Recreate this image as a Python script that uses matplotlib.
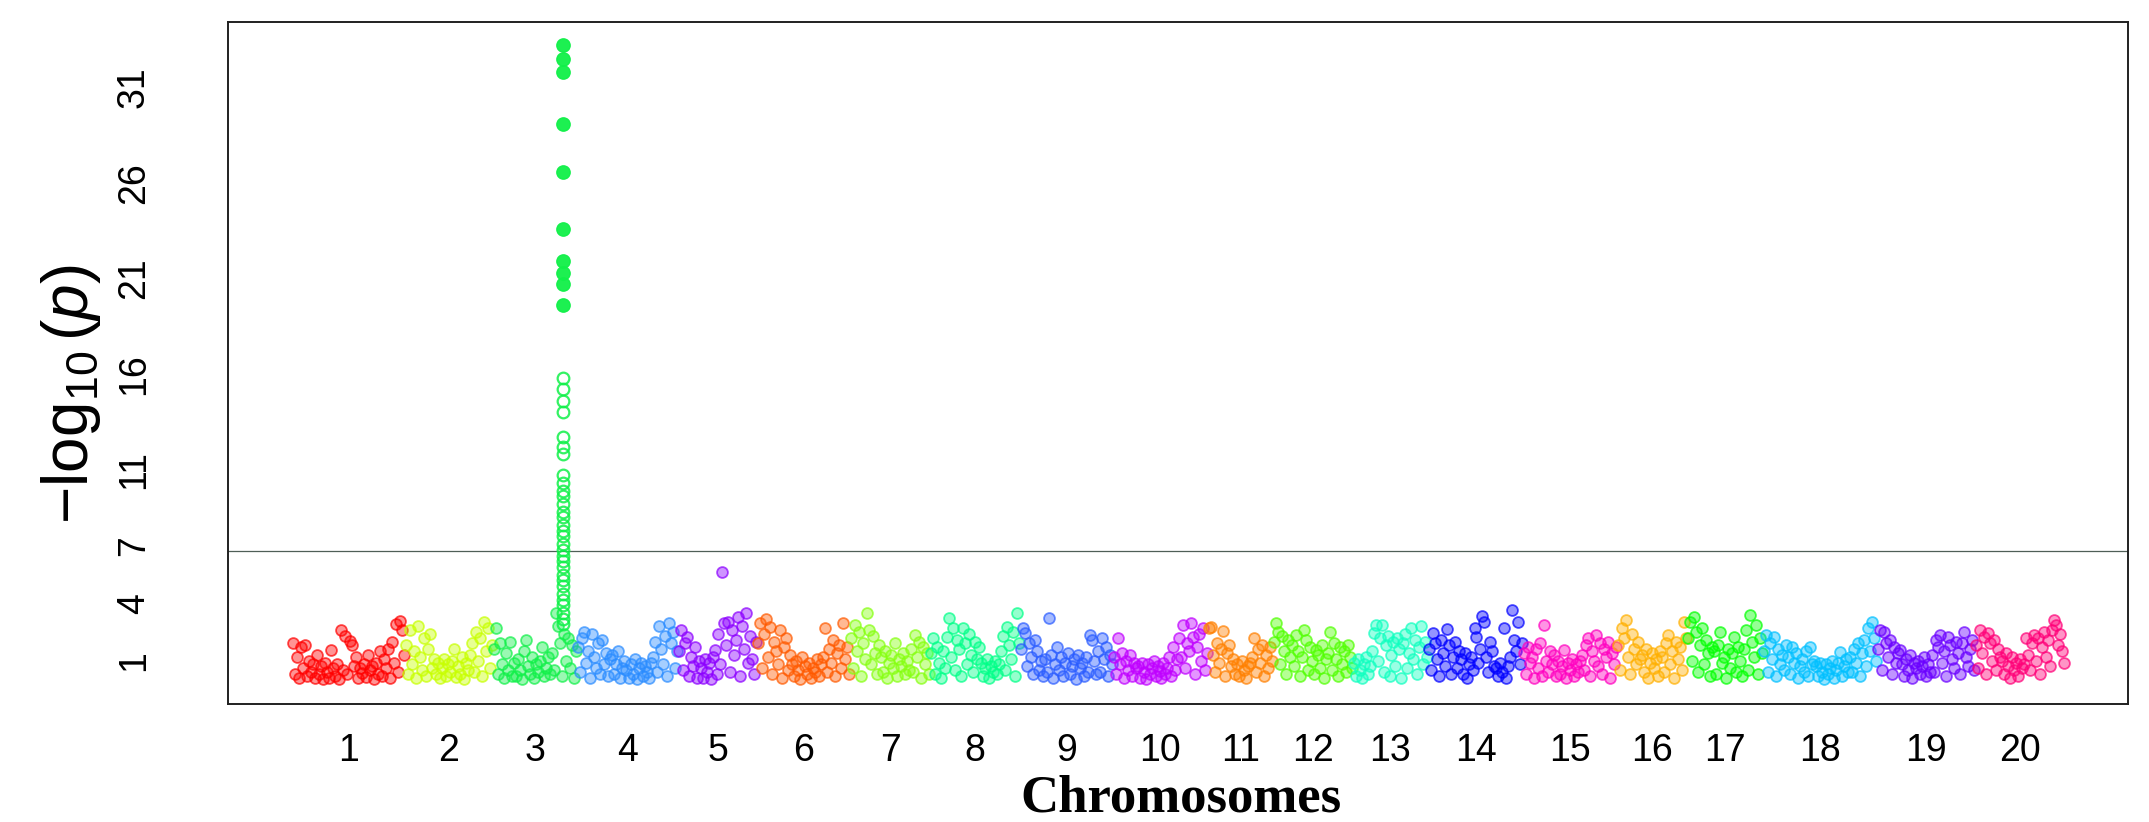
import numpy as np
import matplotlib
matplotlib.use('Agg')
import matplotlib.pyplot as plt
from matplotlib import font_manager
from matplotlib.colors import to_rgba

# chromosome layout (Mb) and colours
chrom_names = [str(i) for i in range(1, 21)]
chrom_len = [113, 88, 84, 101, 79, 93, 80, 90, 93, 95, 65, 80, 75, 95, 94, 70, 76, 114, 98, 90]
chrom_colors = ['#FF0000', '#C8FF00', '#10F048', '#2A8CFF', '#8C00FF',
                '#FF5A00', '#86FF10', '#00FF88', '#2A5CFF', '#C000FF',
                '#FF8000', '#50FF00', '#10FFC0', '#0000FF', '#FF00C0',
                '#FFB000', '#00FF00', '#00C0FF', '#6A00FF', '#FF0078']

# -log10(p) along each chromosome (left to right)
chr1_logp = [1.9, 0.3, 1.2, 0.1, 1.7, 0.6, 1.8, 0.2, 1.0, 0.4, 0.8, 0.1, 1.3, 0.3, 0.7, 0.05, 0.9,
             0.4, 0.1, 1.55, 0.6, 0.2, 0.8, 0.05, 2.6, 0.5, 2.3, 0.3, 2.05, 1.8, 0.7, 1.2, 0.1, 0.6,
             0.35, 0.8, 0.15, 1.3, 0.5, 0.7, 0.05, 0.9, 0.3, 1.5, 0.2, 1.1,
             0.6, 1.6, 0.1, 2.0, 0.9, 2.9, 0.4, 3.05, 2.6, 1.3]
chr2_logp = [1.8, 0.3, 2.6, 0.8, 1.5, 0.1, 2.8, 1.2, 0.5, 2.2, 0.2, 1.6, 2.4, 0.6, 1.1, 0.3,
             0.9, 0.1, 0.6, 1.1, 0.2, 0.8, 0.4, 1.0, 1.6, 0.15, 0.7, 0.3, 1.2, 0.05, 0.9, 0.5, 1.3,
             1.9, 0.4, 2.5, 1.0, 2.2, 0.2, 3.0, 1.5, 2.7, 0.6, 1.8]
chr3_logp = [1.6, 2.7, 0.3, 1.9, 0.8, 0.1, 1.4, 0.5, 2.0, 0.2,
             0.9, 0.2, 1.1, 0.5, 0.05, 1.5, 2.1, 0.7, 0.3, 1.2, 0.1, 0.8, 0.4, 1.0, 1.7, 0.2, 0.6, 1.2, 0.3,
             1.4, 0.5, 3.5, 2.8, 1.9, 0.2, 2.4, 1.0, 2.2, 0.6, 1.8, 0.1, 1.5]
chr4_logp = [1.7, 0.4, 2.2, 2.5, 0.9, 1.5, 0.1, 2.4, 1.2, 0.6, 1.9, 0.3, 2.1, 0.8, 1.4, 0.2, 1.1,
             1.3, 0.3, 0.8, 1.5, 0.1, 0.6, 1.0,
             0.5, 0.1, 0.8, 0.3, 1.1, 0.05, 0.6, 0.9, 0.2, 0.7, 0.4, 0.1, 0.9,
             1.2, 2.0, 0.4, 2.8, 1.6, 0.8, 2.3, 0.2, 2.95, 1.9, 2.5, 0.6, 1.5]
chr5_logp = [1.5, 2.6, 0.5, 1.9, 2.25, 0.2, 1.2, 0.7, 1.7, 0.1, 1.0,
             0.6, 0.1, 1.1, 0.4, 0.9, 0.05, 1.2, 1.56, 0.3,
             2.4, 0.8, 5.66, 2.95, 1.8, 3.03, 0.4, 2.6, 1.3, 2.1, 3.3, 0.2, 2.8, 1.6, 3.48, 0.9, 2.3, 1.1,
             0.3, 2.0]
chr6_logp = [1.9, 2.95, 0.6, 2.4, 3.2, 1.2, 2.78, 0.3, 2.0, 1.5, 0.8, 2.6, 0.1, 1.7, 2.2, 0.5, 1.3,
             0.8, 0.2, 1.0, 0.5, 0.05, 1.2, 0.7, 0.3, 0.9, 0.1, 0.6, 0.4, 1.1, 0.2, 0.8,
             1.2, 2.7, 0.4, 1.6, 0.9, 2.1, 0.2, 1.4, 1.8, 0.6, 2.95, 1.1, 1.7, 0.3]
chr7_logp = [2.2, 0.6, 2.87, 1.5, 2.5, 0.2, 1.9, 1.1, 3.48, 2.6, 0.8, 2.3, 1.4, 0.3, 1.8,
             1.2, 0.4, 1.5, 0.1, 0.9, 1.3, 0.6, 1.9, 0.2, 1.1, 0.7, 1.4, 0.3, 1.0, 0.5,
             1.6, 0.4, 2.34, 1.2, 2.0, 0.1, 1.7, 0.8, 1.4, 0.3]
chr8_logp = [1.4, 2.17, 0.3, 1.7, 0.9, 0.1, 1.5, 0.6,
             2.25, 3.21, 1.2, 2.69, 0.5, 2.1, 1.6, 0.2, 2.69, 1.9, 0.8, 2.4, 1.3, 0.4, 2.0, 1.1, 1.7,
             0.9, 0.2, 0.6, 1.1, 0.1, 0.7, 0.4, 1.0, 0.3, 0.8,
             1.5, 2.3, 0.5, 2.78, 1.8, 1.1, 2.5, 0.2, 3.5, 1.9]
chr9_logp = [1.6, 2.69, 2.43, 0.7, 1.9, 1.2, 0.3, 2.1, 1.5, 0.5, 1.0, 0.2,
             1.1, 0.4, 3.22, 1.3, 0.1, 0.8, 1.73, 0.5, 1.2, 0.2, 0.9, 1.4, 0.3, 0.7, 1.1, 0.05, 1.3,
             0.6, 0.9, 0.2, 1.2, 0.4, 2.34, 2.08, 1.0, 0.3,
             1.5, 0.4, 2.17, 1.1, 1.7, 0.2, 1.3, 0.8]
chr10_logp = [1.2, 0.3, 2.17, 0.8, 1.4, 0.1, 1.0, 0.5, 1.3, 0.2, 0.9, 0.6,
              0.7, 0.1, 0.9, 0.4, 0.05, 0.8, 0.3, 0.6, 1.0, 0.2, 0.7, 0.45, 0.1, 0.9, 0.3, 0.6, 1.2,
              0.2, 1.73, 0.5, 1.1,
              2.17, 1.2, 2.86, 0.6, 1.9, 1.5, 2.95, 2.25, 0.3, 1.7, 2.4, 1.0, 2.69, 0.5, 1.4]
chr11_logp = [2.69, 2.78, 1.3, 0.4, 1.9, 0.9, 1.6, 2.57, 0.2, 1.4, 1.8, 0.7, 1.1, 0.3,
              0.8, 0.2, 1.0, 0.5, 0.1, 0.7, 0.9,
              1.2, 2.17, 0.4, 1.6, 0.9, 1.8, 0.2, 1.3, 0.6, 1.7, 1.0]
chr12_logp = [2.0, 2.95, 2.52, 0.8, 2.3, 1.5, 0.3, 2.1, 1.2, 1.8,
              0.7, 2.34, 1.5, 0.2, 1.2, 2.6, 2.08, 0.5, 1.7, 1.0, 0.3, 1.56, 1.3, 0.6, 1.8, 0.1, 1.1,
              1.4, 2.52, 0.5, 1.9, 1.1, 0.2, 1.7, 0.8, 1.5, 0.4, 1.8, 1.2, 0.6]
chr13_logp = [0.9, 0.2, 1.1, 0.5, 0.1, 0.8, 1.2, 0.3, 0.7,
              1.5, 2.43, 2.86, 1.0, 2.2, 2.86, 0.4, 1.8, 2.3, 0.2, 1.3, 2.0, 0.7, 2.2, 1.6, 0.1, 1.9,
              2.4, 0.6, 1.4, 2.69, 1.1, 2.1, 0.3, 1.7, 2.82, 0.8, 2.0, 1.2]
chr14_logp = [1.6, 0.5, 2.43, 1.9, 1.1, 0.2, 2.1, 1.4, 0.7, 2.64, 1.8, 0.3, 1.2, 2.0, 0.6, 1.5,
              1.1, 0.3, 1.4, 0.1, 0.8, 1.2, 0.5,
              2.69, 2.25, 0.9, 1.6, 3.33, 3.03, 1.2, 0.4, 2.0, 1.5, 0.7,
              0.6, 0.2, 0.9, 0.4, 2.69, 0.1, 0.7, 1.2, 3.65, 2.1, 1.5, 3.03, 0.8, 1.9]
chr15_logp = [1.4, 0.3, 1.7, 0.9, 1.2, 0.1, 1.6, 0.6, 1.9, 0.2, 2.86, 1.0, 0.4, 1.5, 0.8, 1.3, 0.2,
              1.0, 0.3, 0.7, 1.56, 0.1, 0.9, 0.5, 1.1, 0.2, 0.8, 0.4, 1.0,
              1.3, 0.5, 1.8, 2.17, 0.2, 1.5, 1.0, 2.34, 0.7, 1.9, 0.3, 1.6, 1.2, 2.0, 0.1, 1.4, 0.8, 1.7]
chr16_logp = [1.8, 0.5, 2.69, 2.2, 3.12, 1.2, 0.3, 2.4, 1.6, 0.8, 2.0, 1.1,
              1.3, 0.4, 1.6, 0.1, 0.9, 1.4, 0.6, 1.1, 0.2, 1.5,
              1.2, 0.4, 1.9, 2.34, 0.8, 1.5, 0.1, 2.0, 1.1, 1.7, 0.5, 3.03, 2.2]
chr17_logp = [2.2, 3.03, 1.0, 3.3, 2.5, 0.4, 1.8, 2.7, 0.8, 2.1, 1.4, 0.2, 1.7,
              1.5, 0.3, 1.8, 2.52, 0.9, 1.2, 0.1, 1.6, 0.6, 1.4, 2.25, 0.4, 1.7, 1.0, 0.2,
              1.6, 2.6, 0.5, 3.39, 2.0, 1.2, 2.86, 0.3, 2.2, 1.4]
chr18_logp = [1.5, 2.34, 0.4, 1.9, 1.1, 2.25, 0.2, 1.6, 0.8, 1.3, 0.5, 1.8,
              1.2, 0.3, 1.73, 0.9, 1.4, 0.1, 0.7, 1.1, 0.4, 1.5, 0.2, 1.73, 0.8, 1.0,
              0.7, 0.2, 0.9, 0.4, 0.05, 0.8, 0.3, 0.6, 1.0, 0.1, 0.5, 0.9, 1.45, 0.2, 0.7, 1.1, 0.4,
              1.2, 0.4, 1.6, 0.9, 1.9, 0.2, 1.4, 2.1, 0.7, 2.69, 1.5, 3.03, 2.2, 1.0]
chr19_logp = [1.6, 2.6, 0.5, 2.52, 1.9, 1.2, 2.08, 0.3, 1.7, 0.9, 1.4,
              1.56, 0.8, 0.2, 1.1, 0.5, 1.3, 0.1, 0.9, 0.6, 1.0, 0.3, 0.7, 1.2, 0.2, 0.8, 0.4,
              1.3, 0.4, 2.08, 1.7, 2.34, 0.9, 1.5, 0.2, 2.25, 1.8, 1.1, 0.6, 2.0, 1.4, 0.3, 1.9,
              2.52, 1.2, 0.7, 1.6, 2.1, 0.5]
chr20_logp = [1.8, 0.6, 2.6, 1.4, 2.25, 0.3, 2.43, 1.9, 1.0, 2.1, 0.5, 1.6, 1.2,
              1.0, 0.3, 1.38, 0.7, 0.1, 1.2, 0.5, 0.9, 0.2, 1.1, 0.6, 0.8,
              2.17, 1.3, 0.5, 1.9, 2.34, 1.0, 2.2, 0.3, 1.7, 2.5, 1.2, 2.1, 0.7, 2.6, 3.12, 2.86,
              1.8, 2.4, 1.5, 0.9]

# the association peak on chromosome 3 (all SNPs at ~70 Mb)
peak_chrom = 3
peak_pos = 70.0
peak_logp = [33.2, 32.5, 31.8, 29.1, 26.6, 23.6, 21.9, 21.3, 20.7, 19.6,
             15.8, 15.2, 14.6, 14.0, 12.7, 12.2, 11.8, 10.7, 10.3, 9.9, 9.6, 9.2, 8.8, 8.5,
             8.1, 7.8, 7.5, 7.1, 6.8, 6.5, 6.2, 5.9, 5.5, 5.2, 4.9, 4.5, 4.2, 3.9, 3.5, 3.2, 2.9]
signal_level = 18

threshold = 6.74
ytick_vals = [1, 4, 7, 11, 16, 21, 26, 31]

all_logp = [chr1_logp, chr2_logp, chr3_logp, chr4_logp, chr5_logp, chr6_logp, chr7_logp,
            chr8_logp, chr9_logp, chr10_logp, chr11_logp, chr12_logp, chr13_logp, chr14_logp,
            chr15_logp, chr16_logp, chr17_logp, chr18_logp, chr19_logp, chr20_logp]

# fonts
names = {f.name for f in font_manager.fontManager.ttflist}
tick_font = 'Liberation Sans Narrow' if 'Liberation Sans Narrow' in names else 'Liberation Sans'
plt.rcParams['mathtext.fontset'] = 'custom'
plt.rcParams['mathtext.rm'] = 'Liberation Sans'
plt.rcParams['mathtext.it'] = 'Liberation Sans:italic'

W, H = 2149, 822
fig = plt.figure(figsize=(W / 100, H / 100), dpi=100)
ax = fig.add_axes([228 / W, 1 - 704 / H, (2128 - 228) / W, (704 - 22) / H])

offsets = np.concatenate([[0], np.cumsum(chrom_len)[:-1]])
centers = offsets + np.array(chrom_len) / 2

ms = 7.8
for k, vals in enumerate(all_logp):
    vals = np.asarray(vals)
    n = len(vals)
    x = offsets[k] + (np.arange(n) + 0.5) / n * chrom_len[k]
    c = chrom_colors[k]
    ax.plot(x, vals, ls='none', marker='o', ms=ms, mfc=to_rgba(c, 0.42),
            mec=to_rgba(c, 0.7), mew=1.3)
    if k + 1 == peak_chrom:
        pv = np.asarray(peak_logp)
        px = np.full(len(pv), offsets[k] + peak_pos)
        low = pv < signal_level
        ax.plot(px[low], pv[low], ls='none', marker='o', ms=8.4, mfc='none',
                mec=to_rgba(c, 0.85), mew=1.6)
        ax.plot(px[~low], pv[~low], ls='none', marker='o', ms=9.6, mfc=c,
                mec=c, mew=1.0, alpha=0.95)

ax.axhline(threshold, color='#4f5f57', lw=0.9, zorder=0)

total = float(np.sum(chrom_len))
ax.set_xlim(-64, total + 63)
ax.set_ylim(-1.27, 34.43)

ax.set_xticks(centers)
ax.set_xticklabels(chrom_names, fontsize=27, family=tick_font, va='center')
ax.tick_params(axis='x', length=0, pad=33.8)
ax.set_yticks(ytick_vals)
ax.set_yticklabels([str(v) for v in ytick_vals], fontsize=27, family=tick_font,
                   rotation=90, ha='center', va='center')
ax.tick_params(axis='y', length=0, pad=67.7)

for sp in ax.spines.values():
    sp.set_linewidth(1.4)
    sp.set_color('#202020')

fig.text(71 / W, 1 - 394 / H, r'$-\log_{10}(p)$', rotation=90, ha='center', va='center',
         fontsize=46)
fig.text(1181 / W, 1 - 811 / H, 'Chromosomes', ha='center', va='baseline', fontsize=38,
         family='Liberation Serif', fontweight='bold')

fig.savefig('out.png', dpi=100)
